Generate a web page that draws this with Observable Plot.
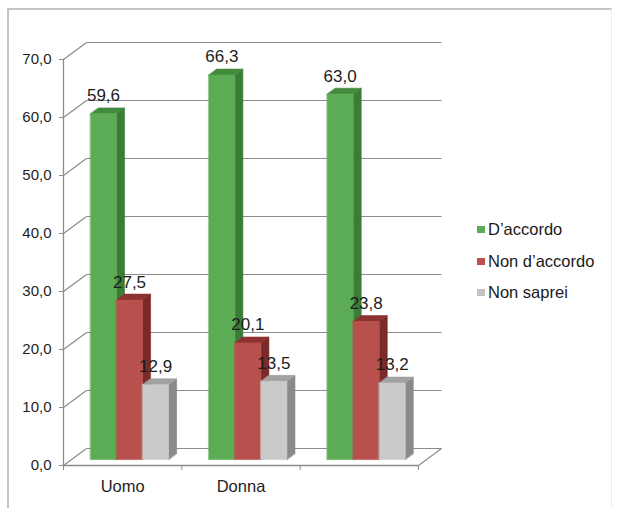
<!DOCTYPE html>
<html>
<head>
<meta charset="utf-8">
<script src="https://cdn.jsdelivr.net/npm/d3@7"></script>
<script src="https://cdn.jsdelivr.net/npm/@observablehq/plot@0.6"></script>
<style>
  body { margin: 0; background: #fff; font-family: "Liberation Sans", Arial, sans-serif; }
  #wrap { position: relative; width: 618px; height: 508px; overflow: hidden; }
  #border { position: absolute; left: 7px; top: 8px; width: 602px; height: 530px;
            border-top: 2px solid #c4c4c4; border-left: 2px solid #c4c4c4; border-right: 1px solid #ededed; }
  #chart { position: absolute; left: 0; top: 0; }
  #legend { position: absolute; left: 477px; top: 214px; font-size: 16.5px; color: #1a1a1a; }
  .row { display: flex; align-items: center; height: 31.5px; white-space: nowrap; }
  .sw { width: 8px; height: 7px; margin-right: 3px; }
</style>
</head>
<body>
<div id="wrap">
  <div id="border"></div>
  <div id="chart"></div>
  <div id="legend"></div>
</div>
<script>
// Categories, series and values
const categories = ["Uomo", "Donna", ""];
const series = ["D’accordo", "Non d’accordo", "Non saprei"];
const accordo = [59.6, 66.3, 63.0];
const nonAccordo = [27.5, 20.1, 23.8];
const nonSaprei = [12.9, 13.5, 13.2];
const yTicks = [0, 10, 20, 30, 40, 50, 60, 70];

// Palette: front face, side face, top face, legend swatch
const faceColors = [
  {front: "#5cac56", side: "#3b7d36", top: "#428a3c", swatch: "#5daa58"},
  {front: "#b8514d", side: "#7a2a28", top: "#8c3230", swatch: "#c0504d"},
  {front: "#cacaca", side: "#8a8a8a", top: "#a2a2a2", swatch: "#c3c3c3"}
];

// Layout
const W = 618, H = 508;
const mL = 63, mR = 200, mT = 59, mB = 43;
const yMax = 70;
const nCat = categories.length;
const pxPerX = (W - mL - mR) / nCat;
const pxPerY = (H - mT - mB) / yMax;

// Oblique depth: full depth moves 23px right and 17px up
const kx = 23 / pxPerX, ky = 17 / pxPerY;
const P = (x, y, z) => ({x: x + z * kx, y: y + z * ky});

// Bars occupy this slice of the depth and of each category
const z0 = 0.35, z1 = 0.70;
const groupOffset = 0.16, barW = 0.22;

const fmt = d3.formatLocale({decimal: ",", thousands: ".", grouping: [3], currency: ["€", ""]}).format(".1f");

const values = [accordo, nonAccordo, nonSaprei];

// Faces of each 3D bar, in painting order
const faces = [];
const labels = [];
categories.forEach((cat, g) => {
  series.forEach((s, i) => {
    const v = values[i][g];
    const xa = g + groupOffset + i * barW, xb = xa + barW;
    const c = faceColors[i];
    const push = (id, fill, pts) => pts.forEach(p => faces.push({id, fill, ...p}));
    push(`${g}-${i}-side`, c.side, [P(xb, 0, z0), P(xb, v, z0), P(xb, v, z1), P(xb, 0, z1)]);
    push(`${g}-${i}-top`, c.top, [P(xa, v, z0), P(xb, v, z0), P(xb, v, z1), P(xa, v, z1)]);
    push(`${g}-${i}-front`, c.front, [P(xa, 0, z0), P(xb, 0, z0), P(xb, v, z0), P(xa, v, z0)]);
    labels.push({...P((xa + xb) / 2, v, z0), text: fmt(v)});
  });
});

const gridColor = "#8c8c8c";

const plot = Plot.plot({
  width: W,
  height: H,
  marginLeft: mL,
  marginRight: mR,
  marginTop: mT,
  marginBottom: mB,
  style: {background: "transparent", fontFamily: "'Liberation Sans', Arial, sans-serif", color: "#1e1e1e"},
  x: {domain: [0, nCat], axis: null},
  y: {domain: [0, yMax], axis: null},
  color: {type: "identity"},
  marks: [
    // back wall gridlines
    Plot.link(yTicks, {
      x1: () => P(0, 0, 1).x, x2: () => P(nCat, 0, 1).x,
      y1: t => P(0, t, 1).y, y2: t => P(0, t, 1).y,
      stroke: gridColor, strokeWidth: 1.2
    }),
    // side wall diagonals
    Plot.link(yTicks, {
      x1: () => 0, x2: () => P(0, 0, 1).x,
      y1: t => t, y2: t => P(0, t, 1).y,
      stroke: gridColor, strokeWidth: 1.2
    }),
    // floor right edge
    Plot.link([0], {
      x1: () => nCat, x2: () => P(nCat, 0, 1).x,
      y1: () => 0, y2: () => P(nCat, 0, 1).y,
      stroke: gridColor, strokeWidth: 1.2
    }),
    // front axes
    Plot.ruleX([0], {y1: 0, y2: yMax, stroke: gridColor, strokeWidth: 1.3}),
    Plot.ruleY([0], {x1: 0, x2: nCat, stroke: gridColor, strokeWidth: 1.3}),
    Plot.axisY({
      ticks: yTicks, tickFormat: fmt, tickSize: 4, tickPadding: 8, label: null,
      fontSize: 15, stroke: gridColor, strokeOpacity: 1, fill: "#1e1e1e"
    }),
    Plot.axisX({
      ticks: d3.range(nCat + 1), tickFormat: () => "", tickSize: 5, label: null,
      stroke: gridColor, strokeOpacity: 1
    }),
    Plot.axisX({
      ticks: d3.range(nCat).map(i => i + 0.5),
      tickFormat: d => categories[Math.floor(d)], label: null,
      tickSize: 0, tickPadding: 15, fontSize: 16.5, fill: "#1e1e1e"
    }),
    // bars
    Plot.line(faces, {
      x: "x", y: "y", z: "id", fill: "fill", stroke: "fill", strokeWidth: 0.6, curve: "linear-closed"
    }),
    // value labels
    Plot.text(labels, {
      x: "x", y: "y", text: "text", dy: -18, lineAnchor: "middle",
      fontSize: 17, fill: "#1c1c1c"
    })
  ]
});

document.getElementById("chart").appendChild(plot);

// legend
const legend = d3.select("#legend");
series.forEach((s, i) => {
  const row = legend.append("div").attr("class", "row");
  row.append("div").attr("class", "sw").style("background", faceColors[i].swatch);
  row.append("span").text(s);
});
</script>
</body>
</html>
